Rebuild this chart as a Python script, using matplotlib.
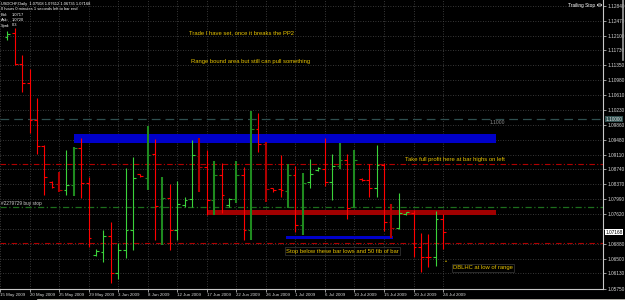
import matplotlib
matplotlib.use("Agg")
import matplotlib.pyplot as plt
from matplotlib.patches import Rectangle
import numpy as np

# session dates on the chart (broker shows Sunday bars), first one is off-screen
dates = [
    "15 May", "17 May", "18 May", "19 May", "20 May", "21 May", "22 May", "24 May",
    "25 May", "26 May", "27 May", "28 May", "29 May", "31 May", "1 Jun", "2 Jun",
    "3 Jun", "4 Jun", "5 Jun", "7 Jun", "8 Jun", "9 Jun", "10 Jun", "11 Jun",
    "12 Jun", "14 Jun", "15 Jun", "16 Jun", "17 Jun", "18 Jun", "19 Jun", "21 Jun",
    "22 Jun", "23 Jun", "24 Jun", "25 Jun", "26 Jun", "28 Jun", "29 Jun", "30 Jun",
    "1 Jul", "2 Jul", "3 Jul", "5 Jul", "6 Jul", "7 Jul", "8 Jul", "9 Jul",
    "10 Jul", "12 Jul", "13 Jul", "14 Jul", "15 Jul", "16 Jul", "17 Jul", "19 Jul",
    "20 Jul", "21 Jul", "22 Jul", "23 Jul", "24 Jul",
]

# OHLC of the visible bars (17 May .. 24 Jul)
opens = [
    1.1206, 1.1216, 1.1139, 1.1091, 1.0998, 1.0933, 1.0842, 1.0837, 1.0822, 1.0835,
    1.0928, 1.0840, 1.0659, 1.0667, 1.0707, 1.0614, 1.0672, 1.0722, 1.0863, 1.0852,
    1.0913, 1.0782, 1.0802, 1.0722, 1.0785, 1.0800, 1.0908, 1.0880, 1.0797, 1.0860,
    1.0785, 1.0800, 1.0860, 1.0722, 1.0975, 1.0938, 1.0827, 1.0825, 1.0820, 1.0860,
    1.0735, 1.0842, 1.0873, 1.0875, 1.0842, 1.0883, 1.0898, 1.0780, 1.0850, 1.0847,
    1.0827, 1.0885, 1.0742, 1.0727, 1.0762, 1.0765, 1.0679, 1.0654, 1.0654, 1.07508,
]
highs = [
    1.1221, 1.1229, 1.1161, 1.1126, 1.1053, 1.0935, 1.0845, 1.0868, 1.0923, 1.0930,
    1.0953, 1.0855, 1.0674, 1.0722, 1.0742, 1.0689, 1.0878, 1.0905, 1.0863, 1.0983,
    1.0950, 1.0855, 1.0837, 1.0845, 1.0805, 1.0948, 1.0953, 1.0923, 1.0895, 1.0890,
    1.0802, 1.0895, 1.0880, 1.1021, 1.1016, 1.0943, 1.0827, 1.0910, 1.0888, 1.0883,
    1.0865, 1.0900, 1.0880, 1.0953, 1.0913, 1.0940, 1.0913, 1.0923, 1.0852, 1.0888,
    1.0935, 1.0890, 1.0787, 1.0815, 1.0767, 1.0772, 1.0714, 1.0712, 1.0770, 1.07612,
]
lows = [
    1.1199, 1.1136, 1.1068, 1.0965, 1.0913, 1.0810, 1.0827, 1.0817, 1.0810, 1.0807,
    1.0802, 1.0679, 1.0657, 1.0642, 1.0589, 1.0599, 1.0652, 1.0672, 1.0855, 1.0822,
    1.0697, 1.0684, 1.0672, 1.0697, 1.0780, 1.0780, 1.0817, 1.0760, 1.0760, 1.0765,
    1.0780, 1.0790, 1.0697, 1.0697, 1.0918, 1.0792, 1.0817, 1.0805, 1.0777, 1.0717,
    1.0709, 1.0827, 1.0870, 1.0832, 1.0797, 1.0875, 1.0750, 1.0777, 1.0845, 1.0805,
    1.0805, 1.0719, 1.0702, 1.0724, 1.0760, 1.0654, 1.0617, 1.0629, 1.0632, 1.06735,
]
closes = [
    1.1214, 1.1139, 1.1091, 1.0998, 1.0933, 1.0855, 1.0830, 1.0822, 1.0835, 1.0928,
    1.0840, 1.0702, 1.0669, 1.0707, 1.0614, 1.0672, 1.0722, 1.0852, 1.0857, 1.0910,
    1.0782, 1.0802, 1.0722, 1.0787, 1.0797, 1.0910, 1.0880, 1.0797, 1.0860, 1.0810,
    1.0800, 1.0860, 1.0722, 1.0975, 1.0938, 1.0825, 1.0822, 1.0822, 1.0860, 1.0735,
    1.0840, 1.0863, 1.0878, 1.0842, 1.0883, 1.0898, 1.0777, 1.0898, 1.0847, 1.0827,
    1.0885, 1.0742, 1.0727, 1.0765, 1.0767, 1.0679, 1.0654, 1.0654, 1.0750, 1.07168,
]
# bars drawn in the darker, heavier colour
dark_bars = {"25 May", "27 May", "8 Jun", "10 Jun", "16 Jun", "18 Jun", "22 Jun",
             "24 Jun", "26 Jun", "30 Jun", "2 Jul", "8 Jul", "10 Jul", "16 Jul"}

date_ticks = ["15 May 2009", "20 May 2009", "25 May 2009", "29 May 2009", "3 Jun 2009",
              "8 Jun 2009", "12 Jun 2009", "17 Jun 2009", "22 Jun 2009", "26 Jun 2009",
              "1 Jul 2009", "6 Jul 2009", "10 Jul 2009", "15 Jul 2009", "20 Jul 2009",
              "24 Jul 2009"]
price_ticks = [1.12840, 1.12470, 1.12100, 1.11730, 1.11350, 1.10980, 1.10610, 1.10230,
               1.09860, 1.09480, 1.09110, 1.08740, 1.08370, 1.07990, 1.07620, 1.07250,
               1.06880, 1.06500, 1.06130, 1.05750]

level_1100 = 1.1000
take_profit = 1.0888
buy_stop = 1.0780
stop_loss = 1.0689
bid_price = 1.07168

# drawn zones: (top, bottom, start bar, end bar)
zone_blue = (1.0963, 1.0940, 10.0, 67.2)
zone_red = (1.0772, 1.0760, 28.1, 67.2)
zone_stop = (1.0708, 1.0699, 38.7, 53.2)

W, H = 625, 300
BG = "black"
TXT = "#e8c400"
FONT = "Liberation Sans"


def fpos(x, y):
    return x / W, 1 - y / H


fig = plt.figure(figsize=(W / 100, H / 100), dpi=100, facecolor=BG)
ax = fig.add_axes([0, 11 / H, 603 / W, 289 / H], facecolor=BG)
ax.set_xlim(0.18, 81.66)
ax.set_ylim(1.05739, 1.12991)

ax.grid(True, color="#4a4a4a", linestyle=(0, (1, 2)), linewidth=0.6)
ax.set_axisbelow(True)

# order / level lines
ax.axhline(level_1100, color="#2f4f4f", lw=0.9, ls=(0, (7, 4)), zorder=1)
ax.axhline(take_profit, color="#b00000", lw=0.8, ls=(0, (5, 2, 1, 2)), zorder=1)
ax.axhline(buy_stop, color="#1d6e1d", lw=0.9, ls=(0, (5, 2, 1, 2)), zorder=1)
ax.axhline(stop_loss, color="#b00000", lw=0.8, ls=(0, (5, 2, 1, 2)), zorder=1)

for (top, bot, x0, x1), col in [(zone_blue, "#0000c8"), (zone_red, "#a00000"),
                                (zone_stop, "#0000c8")]:
    ax.add_patch(Rectangle((x0, bot), x1 - x0, top - bot, facecolor=col,
                           edgecolor="none", zorder=2))

# OHLC bars
xs = np.arange(1, len(dates))
tick = 0.38
for x, d, o, h, l, c in zip(xs, dates[1:], opens, highs, lows, closes):
    up = c > o
    dark = d in dark_bars
    if up:
        col = "#1f8a1f" if dark else "#3ad23a"
    else:
        col = "#b00000" if dark else "#ff0000"
    lw = 1.5 if dark else 0.8
    ax.vlines(x, l, h, color=col, lw=lw, zorder=3)
    ax.hlines(o, x - tick, x, color=col, lw=0.8, zorder=3)
    ax.hlines(c, x, x + tick, color=col, lw=0.8, zorder=3)

# axes styling
for side in ["top", "left"]:
    ax.spines[side].set_visible(False)
for side in ["right", "bottom"]:
    ax.spines[side].set_color("#c8c8c8")
    ax.spines[side].set_linewidth(0.8)

ax.yaxis.tick_right()
ax.set_yticks(price_ticks)
# the label next to the bid box is covered by it
ax.set_yticklabels(["" if abs(p - bid_price) < 0.002 else f"{p:.5f}" for p in price_ticks])
ax.tick_params(axis="y", colors="#d8d8d8", labelsize=3.4, length=2, width=0.5, pad=1)
for lab in ax.get_yticklabels():
    lab.set_fontfamily(FONT)

tick_pos = []
for lbl in date_ticks:
    key = lbl.rsplit(" ", 1)[0]
    tick_pos.append(dates.index(key))
ax.set_xticks(tick_pos)
ax.set_xticklabels(date_ticks, ha="left")
ax.tick_params(axis="x", colors="#d8d8d8", labelsize=3.2, length=2, width=0.5, pad=1)
for lab in ax.get_xticklabels():
    lab.set_fontfamily(FONT)

# price boxes on the right scale
ytr = ax.get_yaxis_transform()
ax.text(1.004, level_1100, "1.10000", transform=ytr, fontsize=3.4, family=FONT,
        color="#e0e0e0", va="center", ha="left", clip_on=False,
        bbox=dict(boxstyle="square,pad=0.15", fc="#2f4f4f", ec="none"))
ax.text(1.004, bid_price, f"{bid_price:.5f}", transform=ytr, fontsize=3.4, family=FONT,
        color="black", va="center", ha="left", clip_on=False,
        bbox=dict(boxstyle="square,pad=0.15", fc="white", ec="none"))

# info block top left
info = [
    "USDCHF,Daily  1.07508 1.07612 1.06735 1.07168",
    "0 hours 0 minutes 1 seconds left to bar end",
]
fig.text(*fpos(1, 4), info[0], color="white", fontsize=2.9, family=FONT, va="center")
fig.text(*fpos(1, 9.5), info[1], color="white", fontsize=2.9, family=FONT, va="center")
for y, k, v in [(14.5, "Bid:", "1.0717"), (20, "Ask:", "1.0720"), (25.5, "Sprd:", "0.3")]:
    fig.text(*fpos(1, y), k, color="white", fontsize=2.9, family=FONT, va="center")
    fig.text(*fpos(12, y), v, color="white", fontsize=2.9, family=FONT, va="center")

fig.text(*fpos(595, 5), "Trailing Stop", color="white", fontsize=3.4, family=FONT,
         va="center", ha="right")
fig.patches.append(matplotlib.patches.Circle(fpos(599.5, 5), 2.2 / W, transform=fig.transFigure,
                                             fill=False, ec="white", lw=0.5))

# annotations
fig.text(*fpos(189, 33), "Trade I have set, once it breaks the PP2", color=TXT,
         fontsize=4.2, family=FONT, va="center")
fig.text(*fpos(191, 61), "Range bound area but still can pull something", color=TXT,
         fontsize=4.2, family=FONT, va="center")
fig.text(*fpos(405, 160), "Take full profit here at bar highs on left", color=TXT,
         fontsize=4.2, family=FONT, va="center")
fig.text(*fpos(286, 251), "Stop below these bar lows and 50 fib of bar", color=TXT,
         fontsize=4.2, family=FONT, va="center",
         bbox=dict(boxstyle="square,pad=0.2", fc="none", ec="#3a3a3a", lw=0.5))
fig.text(*fpos(453, 268), "DBLHC at low of range", color=TXT,
         fontsize=4.2, family=FONT, va="center",
         bbox=dict(boxstyle="square,pad=0.2", fc="none", ec="#3a3a3a", lw=0.5))
fig.text(*fpos(446, 262), "\u2022", color=TXT, fontsize=4, family=FONT, va="center", ha="center")
fig.text(*fpos(490, 123), "1.1000", color="#8a8a8a", fontsize=3.6, family=FONT, va="center")
fig.text(*fpos(1, 204), "#2279729 buy stop", color="#d0d0d0", fontsize=3.4, family=FONT,
         va="center")

# window scrollbars
fig.add_artist(plt.Line2D([38 / W, 1], [0.5 / H, 0.5 / H], color="#d4d0c8", lw=1.2))
fig.add_artist(plt.Line2D([623 / W, 623 / W], [1 - 60 / H, 1], color="#a0a0a0", lw=1.2))

fig.savefig("out.png", dpi=100, facecolor=BG)
